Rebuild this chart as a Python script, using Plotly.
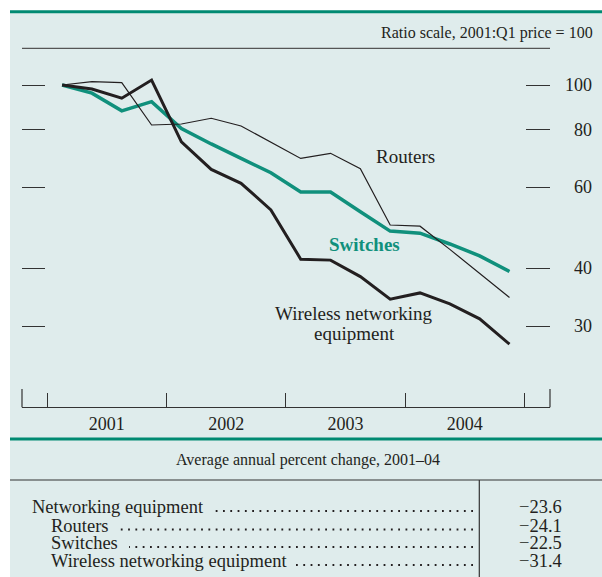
import math
import plotly.graph_objects as go

# quarterly index, 2001:Q1 = 100 (ratio scale)
years = [2001, 2002, 2003, 2004]
quarters = [(y, q) for y in years for q in (1, 2, 3, 4)]

routers = [100, 101.7, 101.2, 81.9, 82.3, 84.7, 81.5, 75.1,
           69.3, 71.1, 65.8, 49.7, 49.4, 44.0, 39.0, 34.6]
switches = [100, 96.0, 87.9, 92.0, 80.5, 74.5, 69.3, 64.5,
            58.6, 58.6, 53.1, 48.2, 47.7, 45.2, 42.6, 39.4]
wireless = [100, 98.0, 93.6, 102.5, 75.3, 65.6, 61.2, 53.6,
            41.9, 41.7, 38.4, 34.3, 35.4, 33.5, 31.1, 27.4]

ytick_vals = [30, 40, 60, 80, 100]

table_labels = ["Networking equipment", "Routers", "Switches",
                "Wireless networking equipment"]
table_values = [-23.6, -24.1, -22.5, -31.4]

# x positions: middle of each quarter
xq = [y + (q - 0.5) / 4 for y, q in quarters]

W, H = 602, 577
TEAL = "#008a72"
LINE_TEAL = "#10907c"
INK = "#231f20"
BG = "#dfecec"
FONT = "Liberation Serif"


def px(x):
    return x / W


def py(y):
    return 1 - y / H


# axis geometry (pixels)
X_LEFT, X_RIGHT = 22, 550
YEAR0_PX, PX_PER_YEAR = 47.2, 119.3
Y_BOTTOM, Y_TOP = 407.3, 60
Y100_PX, PX_PER_DECADE = 85, 461


def ylog(p):
    return 2 - (p - Y100_PX) / PX_PER_DECADE


xrange_ = [2001 + (X_LEFT - YEAR0_PX) / PX_PER_YEAR,
           2001 + (X_RIGHT - YEAR0_PX) / PX_PER_YEAR]
yrange_ = [ylog(Y_BOTTOM), ylog(Y_TOP)]

fig = go.Figure()
fig.add_trace(go.Scatter(x=xq, y=switches, mode="lines", name="Switches",
                         line=dict(color=LINE_TEAL, width=3.5)))
fig.add_trace(go.Scatter(x=xq, y=wireless, mode="lines", name="Wireless",
                         line=dict(color=INK, width=3)))
# routers sit on the twin (right-hand) axis, same scale, so its ticks get drawn
fig.add_trace(go.Scatter(x=xq, y=routers, mode="lines", name="Routers",
                         yaxis="y2", line=dict(color=INK, width=1.2)))

axis_font = dict(family=FONT, size=18, color=INK)
ycommon = dict(type="log", range=yrange_, domain=[py(Y_BOTTOM), py(Y_TOP)],
               showgrid=False, zeroline=False, showline=False,
               ticks="inside", tickvals=ytick_vals, tickcolor="#333",
               tickwidth=1.2, showticklabels=False)

fig.update_layout(
    width=W, height=H, autosize=False,
    margin=dict(l=0, r=0, t=0, b=0),
    paper_bgcolor="white", plot_bgcolor="rgba(0,0,0,0)",
    showlegend=False,
    font=axis_font,
    xaxis=dict(domain=[px(X_LEFT), px(X_RIGHT)], range=xrange_,
               showgrid=False, zeroline=False, showline=True,
               linecolor="#333", linewidth=1.2,
               tickvals=[y + 0.5 for y in years],
               ticktext=[str(y) for y in years],
               ticks="", tickfont=axis_font,
               minor=dict(tickvals=years + [years[-1] + 1], ticks="inside",
                          ticklen=14, tickcolor="#333", tickwidth=1.2,
                          showgrid=False)),
    yaxis=dict(ticklen=23, **ycommon),
    yaxis2=dict(overlaying="y", side="right", anchor="x", ticklen=24,
                **ycommon),
)

shapes = [
    # panel background
    dict(type="rect", xref="paper", yref="paper", x0=px(10), x1=1,
         y0=0, y1=py(12), fillcolor=BG, line=dict(width=0), layer="below"),
    # teal rules
    dict(type="line", xref="paper", yref="paper", x0=px(10), x1=1,
         y0=py(11.7), y1=py(11.7), line=dict(color=TEAL, width=3)),
    dict(type="line", xref="paper", yref="paper", x0=px(10), x1=1,
         y0=py(439), y1=py(439), line=dict(color=TEAL, width=3)),
    # header rule
    dict(type="line", xref="paper", yref="paper", x0=px(22), x1=px(550),
         y0=py(48.3), y1=py(48.3), line=dict(color="#555", width=1.2)),
    # end ticks of the x axis
    dict(type="line", xref="paper", yref="paper", x0=px(X_LEFT), x1=px(X_LEFT),
         y0=py(Y_BOTTOM), y1=py(389), line=dict(color="#333", width=1.2)),
    dict(type="line", xref="paper", yref="paper", x0=px(X_RIGHT), x1=px(X_RIGHT),
         y0=py(Y_BOTTOM), y1=py(389), line=dict(color="#333", width=1.2)),
    # table rules
    dict(type="line", xref="paper", yref="paper", x0=px(10), x1=1,
         y0=py(480), y1=py(480), line=dict(color="#333", width=1.2)),
    dict(type="line", xref="paper", yref="paper", x0=px(479.3), x1=px(479.3),
         y0=py(480), y1=0, line=dict(color="#333", width=1.2)),
]

label_font = dict(family=FONT, size=19, color=INK)
annotations = [
    dict(text="Ratio scale, 2001:Q1 price = 100", x=px(595), y=py(32.7),
         xanchor="right", yanchor="middle", font=dict(family=FONT, size=16, color=INK)),
    dict(text="Routers", x=px(405), y=py(157), xanchor="center", yanchor="middle",
         font=label_font),
    dict(text="<b>Switches</b>", x=px(364), y=py(244), xanchor="center",
         yanchor="middle", font=dict(family=FONT, size=19, color=LINE_TEAL)),
    dict(text="Wireless networking", x=px(354), y=py(313.5),
         xanchor="center", yanchor="middle", font=label_font),
    dict(text="equipment", x=px(354), y=py(333.5),
         xanchor="center", yanchor="middle", font=label_font),
    dict(text="Average annual percent change, 2001\u201304", x=px(308), y=py(460),
         xanchor="center", yanchor="middle", font=dict(family=FONT, size=16, color=INK)),
]

# right-hand tick labels
for v in ytick_vals:
    annotations.append(dict(text=str(v), x=px(594), y=math.log10(v), xref="paper",
                            yref="y", xanchor="right", yanchor="middle",
                            font=axis_font))

# table rows
row_font = dict(family=FONT, size=18.5, color=INK)
row_y = [507, 525.5, 543, 561]
row_x = [30, 49, 49, 49]
dots_from = [213, 117, 129, 292]
for lab, val, ry, rx, d0 in zip(table_labels, table_values, row_y, row_x, dots_from):
    annotations.append(dict(text=lab, x=px(rx), y=py(ry), xanchor="left",
                            yanchor="middle", font=row_font))
    annotations.append(dict(text=f"{val:.1f}".replace("-", "\u2212"), x=px(564),
                            y=py(ry), xanchor="right", yanchor="middle",
                            font=row_font))
    shapes.append(dict(type="line", xref="paper", yref="paper",
                       x0=px(473), x1=px(d0), y0=py(ry + 4), y1=py(ry + 4),
                       line=dict(color=INK, width=1.8, dash="1.8px,5.5px")))

for a in annotations:
    a.setdefault("xref", "paper")
    a.setdefault("yref", "paper")
    a["showarrow"] = False

fig.update_layout(shapes=shapes, annotations=annotations)

# page margin off so the figure sits at the window's corner
fig.write_html("out.html", config={"displayModeBar": False},
               post_script="document.body.style.margin='0';"
                           "document.body.style.overflow='hidden';")
